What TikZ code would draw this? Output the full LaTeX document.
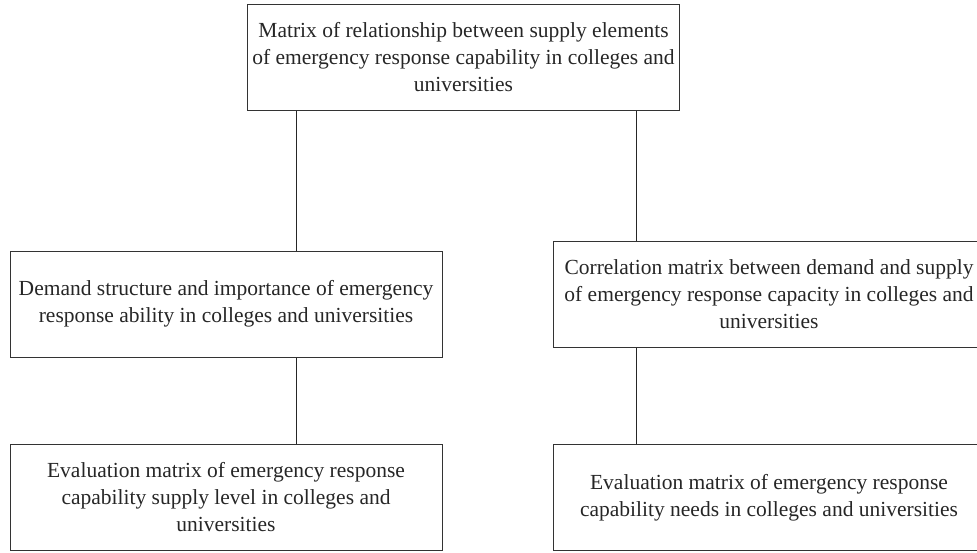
\documentclass[tikz,border=0pt]{standalone}
\usepackage{fontspec}
\setmainfont{Liberation Serif}
\usepackage{tikz}
\usetikzlibrary{positioning}

\begin{document}
\begin{tikzpicture}[
    x=1pt, y=-1pt,
    box/.style={rectangle, draw=black!80, line width=1pt, minimum width=432pt, minimum height=106pt, inner sep=0pt, align=center, font=\fontsize{21.5}{27}\selectfont, text=black!85},
    link/.style={draw=black!85, line width=1pt},
]
    \useasboundingbox (0,0) rectangle (977,552);
    \clip (0,0) rectangle (977,552);

    % Nodes
    \node[box] (supply) at (463.5,57) {Matrix of relationship between supply elements\\of emergency response capability in colleges and\\universities};
    \node[box] (demand) at (226,304) {Demand structure and importance of emergency\\response ability in colleges and universities};
    \node[box] (correl) at (769,294) {Correlation matrix between demand and supply\\of emergency response capacity in colleges and\\universities};
    \node[box] (evalsup) at (226,497.5) {Evaluation matrix of emergency response\\capability supply level in colleges and\\universities};
    \node[box] (evalneed) at (769,497.5) {Evaluation matrix of emergency response\\capability needs in colleges and universities};

    % Connectors
    \draw[link] ([xshift=70pt]demand.north |- supply.south) -- ([xshift=70pt]demand.north);
    \draw[link] ([xshift=-133pt]correl.north |- supply.south) -- ([xshift=-133pt]correl.north);
    \draw[link] ([xshift=70pt]demand.south) -- ([xshift=70pt]evalsup.north);
    \draw[link] ([xshift=-133pt]correl.south) -- ([xshift=-133pt]evalneed.north);
\end{tikzpicture}
\end{document}
